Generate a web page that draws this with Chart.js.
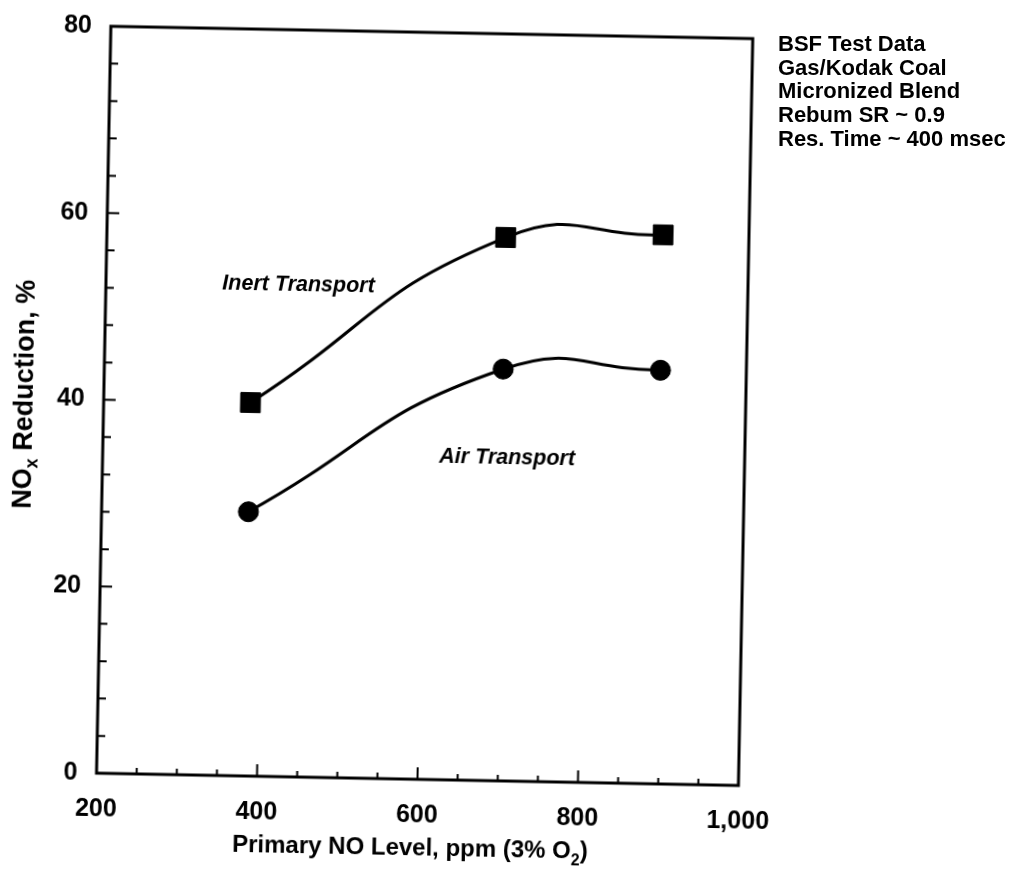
<!DOCTYPE html>
<html>
<head>
<meta charset="utf-8">
<title>NOx Reduction vs Primary NO Level</title>
<script src="https://cdn.jsdelivr.net/npm/chart.js@4.4.1/dist/chart.umd.min.js"></script>
<style>
  html, body { margin: 0; padding: 0; background: #fff; overflow: hidden; }
  body { width: 1016px; height: 880px; position: relative; }
  /* the scanned figure sits about 1 degree off square */
  #chart { position: absolute; left: 0; top: 0; transform: rotate(1.1deg); transform-origin: 508px 440px; }
  .notes { position: absolute; left: 778px; top: 32px; font: bold 22px "Liberation Sans", Arial, sans-serif; line-height: 23.7px; color: #000; white-space: nowrap; }
</style>
</head>
<body>
<canvas id="chart" width="1016" height="880"></canvas>
<div class="notes" id="notes"></div>
<script>
// values
const primaryNO = [383, 697, 893];
const inertReduction = [40.0, 58.2, 58.8];
const airReduction = [28.3, 44.1, 44.3];

const xTickValues = [200, 400, 600, 800, 1000];
const xTickLabels = ['200', '400', '600', '800', '1,000'];
const yTickValues = [0, 20, 40, 60, 80];
const yTickLabels = ['0', '20', '40', '60', '80'];

const curveNames = ['Inert Transport', 'Air Transport'];
const curveNoteX = [440, 704];
const curveNoteY = [52.7, 34.6];

const testNotes = ['BSF Test Data', 'Gas/Kodak Coal', 'Micronized Blend', 'Rebum SR ~ 0.9', 'Res. Time ~ 400 msec'];

const FONT = '"Liberation Sans", Arial, Helvetica, sans-serif';

document.getElementById('notes').innerHTML = testNotes.map(t => `<div>${t}</div>`).join('');

// draws text made of normal + subscript pieces, centred or left aligned
function drawParts(ctx, parts, x, y, size, align) {
  const subSize = Math.round(size * 0.68);
  let total = 0;
  parts.forEach(p => {
    ctx.font = `bold ${p.sub ? subSize : size}px ${FONT}`;
    p.w = ctx.measureText(p.t).width;
    total += p.w;
  });
  let cx = align === 'center' ? x - total / 2 : x;
  parts.forEach(p => {
    ctx.font = `bold ${p.sub ? subSize : size}px ${FONT}`;
    ctx.fillText(p.t, cx, p.sub ? y + size * 0.3 : y);
    cx += p.w;
  });
}

const framePlugin = {
  id: 'frame',
  afterDraw(chart) {
    const { ctx, chartArea: a, scales } = chart;
    ctx.save();
    ctx.strokeStyle = '#000';
    ctx.fillStyle = '#000';
    ctx.lineWidth = 3;
    ctx.strokeRect(a.left, a.top, a.right - a.left, a.bottom - a.top);

    // ticks point into the plot
    ctx.lineWidth = 2;
    ctx.beginPath();
    scales.x.ticks.forEach(t => {
      const px = scales.x.getPixelForValue(t.value);
      const len = xTickValues.includes(t.value) ? 12 : 6;
      ctx.moveTo(px, a.bottom);
      ctx.lineTo(px, a.bottom - len);
    });
    scales.y.ticks.forEach(t => {
      const py = scales.y.getPixelForValue(t.value);
      const len = yTickValues.includes(t.value) ? 12 : 8;
      ctx.moveTo(a.left, py);
      ctx.lineTo(a.left + len, py);
    });
    ctx.stroke();

    // curve names
    ctx.textAlign = 'center';
    ctx.textBaseline = 'middle';
    ctx.font = `italic bold 21.5px ${FONT}`;
    curveNames.forEach((n, i) => {
      ctx.fillText(n, scales.x.getPixelForValue(curveNoteX[i]), scales.y.getPixelForValue(curveNoteY[i]));
    });

    // axis titles
    ctx.textAlign = 'left';
    ctx.textBaseline = 'alphabetic';
    drawParts(ctx, [{ t: 'Primary NO Level, ppm (3% O' }, { t: '2', sub: true }, { t: ')' }],
      a.left + 137, a.bottom + 76, 24, 'left');

    ctx.translate(a.left - 78, (a.top + a.bottom) / 2 - 4);
    ctx.rotate(-Math.PI / 2);
    ctx.textBaseline = 'middle';
    drawParts(ctx, [{ t: 'NO' }, { t: 'x', sub: true }, { t: ' Reduction, %' }], 0, 0, 27, 'center');
    ctx.restore();
  }
};

new Chart(document.getElementById('chart'), {
  type: 'line',
  data: {
    datasets: [
      {
        label: curveNames[0],
        data: primaryNO.map((x, i) => ({ x, y: inertReduction[i] })),
        borderColor: '#000',
        backgroundColor: '#000',
        borderWidth: 3,
        pointStyle: 'rect',
        pointRadius: 14,
        pointBorderWidth: 1,
        tension: 0.5
      },
      {
        label: curveNames[1],
        data: primaryNO.map((x, i) => ({ x, y: airReduction[i] })),
        borderColor: '#000',
        backgroundColor: '#000',
        borderWidth: 3,
        pointStyle: 'circle',
        pointRadius: 10,
        pointBorderWidth: 1,
        tension: 0.5
      }
    ]
  },
  options: {
    responsive: false,
    animation: false,
    devicePixelRatio: 1,
    layout: { padding: { top: 27, right: 271, left: 0, bottom: 0 } },
    plugins: { legend: { display: false }, tooltip: { enabled: false } },
    scales: {
      x: {
        type: 'linear',
        min: 200,
        max: 1000,
        afterFit: s => { s.height = 99; },
        grid: { display: false, drawTicks: false },
        border: { display: false },
        ticks: {
          stepSize: 50,
          autoSkip: false,
          maxRotation: 0,
          padding: 21,
          color: '#000',
          font: { family: FONT, size: 25, weight: 'bold' },
          callback: v => { const i = xTickValues.indexOf(v); return i >= 0 ? xTickLabels[i] : ''; }
        }
      },
      y: {
        min: 0,
        max: 80,
        afterFit: s => { s.width = 103; },
        grid: { display: false, drawTicks: false },
        border: { display: false },
        ticks: {
          stepSize: 4,
          autoSkip: false,
          padding: 19,
          color: '#000',
          font: { family: FONT, size: 25, weight: 'bold' },
          callback: v => { const i = yTickValues.indexOf(v); return i >= 0 ? yTickLabels[i] : ''; }
        }
      }
    }
  },
  plugins: [framePlugin]
});
</script>
</body>
</html>
